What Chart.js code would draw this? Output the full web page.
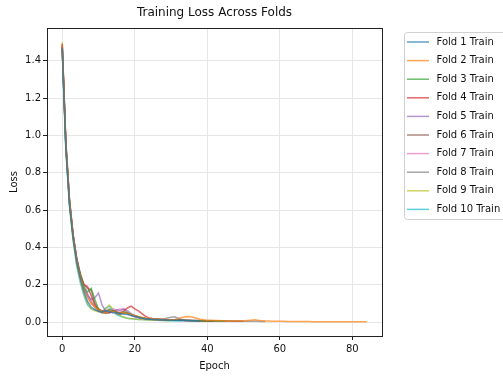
<!DOCTYPE html>
<html>
<head>
<meta charset="utf-8">
<script src="https://cdn.jsdelivr.net/npm/chart.js@4.4.0/dist/chart.umd.min.js"></script>
<style>
  body { margin: 0; background: #fff; }
</style>
</head>
<body>
<canvas id="loss-chart" width="503" height="377"></canvas>
<script>
const foldLabels = ['Fold 1 Train', 'Fold 2 Train', 'Fold 3 Train', 'Fold 4 Train', 'Fold 5 Train',
  'Fold 6 Train', 'Fold 7 Train', 'Fold 8 Train', 'Fold 9 Train', 'Fold 10 Train'];
const foldColors = ['#1f77b4', '#ff7f0e', '#2ca02c', '#d62728', '#9467bd',
  '#8c564b', '#e377c2', '#7f7f7f', '#bcbd22', '#17becf'];

// loss per epoch (index = epoch)
const fold1 = [1.47, 0.94, 0.63, 0.45, 0.32, 0.23, 0.16, 0.11, 0.08, 0.066,
  0.058, 0.052, 0.061, 0.056, 0.048, 0.051, 0.045, 0.042, 0.040, 0.035,
  0.030, 0.025, 0.020, 0.018, 0.016, 0.014, 0.013, 0.012, 0.012, 0.011,
  0.010, 0.009, 0.009, 0.008, 0.008, 0.007, 0.007, 0.006, 0.006];
const fold2 = [1.48, 0.96, 0.65, 0.46, 0.33, 0.24, 0.17, 0.13, 0.10, 0.080,
  0.065, 0.055, 0.050, 0.060, 0.055, 0.050, 0.048, 0.050, 0.045, 0.040,
  0.035, 0.030, 0.026, 0.022, 0.020, 0.018, 0.016, 0.015, 0.014, 0.013,
  0.012, 0.014, 0.018, 0.024, 0.028, 0.030, 0.025, 0.020, 0.015, 0.012,
  0.010, 0.009, 0.008, 0.008, 0.007, 0.007, 0.006, 0.006, 0.006, 0.005,
  0.006, 0.008, 0.010, 0.012, 0.009, 0.007, 0.005, 0.005, 0.004, 0.004,
  0.004, 0.004, 0.003, 0.003, 0.003, 0.003, 0.003, 0.003, 0.003, 0.002,
  0.002, 0.002, 0.002, 0.002, 0.002, 0.002, 0.002, 0.002, 0.002, 0.002,
  0.002, 0.002, 0.002, 0.002, 0.002];
const fold3 = [1.46, 0.93, 0.64, 0.46, 0.33, 0.25, 0.19, 0.16, 0.18, 0.12,
  0.07, 0.055, 0.05, 0.065, 0.06, 0.05, 0.045, 0.055, 0.05, 0.04,
  0.033, 0.027, 0.022, 0.019, 0.017, 0.015, 0.014, 0.013, 0.012, 0.011,
  0.010, 0.010, 0.009, 0.009, 0.008, 0.008, 0.007, 0.007, 0.007, 0.006,
  0.006, 0.006, 0.005, 0.005, 0.005, 0.005];
const fold4 = [1.49, 0.97, 0.66, 0.47, 0.34, 0.25, 0.20, 0.19, 0.14, 0.09,
  0.07, 0.06, 0.055, 0.05, 0.06, 0.055, 0.05, 0.06, 0.075, 0.085,
  0.07, 0.06, 0.045, 0.03, 0.022, 0.018, 0.016, 0.014, 0.013, 0.012,
  0.011, 0.010, 0.009, 0.009, 0.008, 0.008, 0.007, 0.007, 0.006, 0.006,
  0.006, 0.005, 0.005];
const fold5 = [1.47, 0.95, 0.65, 0.47, 0.34, 0.25, 0.18, 0.14, 0.12, 0.13,
  0.155, 0.09, 0.06, 0.05, 0.055, 0.065, 0.06, 0.07, 0.06, 0.045,
  0.035, 0.028, 0.022, 0.019, 0.017, 0.015, 0.014, 0.013, 0.012, 0.011,
  0.010, 0.010, 0.009, 0.009, 0.008, 0.008, 0.007, 0.007, 0.006, 0.006,
  0.006];
const fold6 = [1.48, 0.95, 0.65, 0.46, 0.34, 0.26, 0.20, 0.18, 0.17, 0.10,
  0.065, 0.05, 0.045, 0.05, 0.06, 0.045, 0.04, 0.05, 0.045, 0.04,
  0.03, 0.025, 0.021, 0.018, 0.016, 0.015, 0.014, 0.013, 0.012, 0.011,
  0.010, 0.010, 0.009, 0.009, 0.008, 0.008, 0.008, 0.007, 0.007, 0.007,
  0.006, 0.006, 0.006, 0.005, 0.005, 0.005, 0.005, 0.004, 0.004, 0.004,
  0.004];
const fold7 = [1.47, 0.94, 0.64, 0.46, 0.33, 0.24, 0.18, 0.14, 0.10, 0.08,
  0.06, 0.05, 0.055, 0.06, 0.07, 0.065, 0.07, 0.068, 0.05, 0.035,
  0.028, 0.022, 0.019, 0.017, 0.015, 0.014, 0.013, 0.012, 0.011, 0.010,
  0.010, 0.009, 0.009, 0.008, 0.008, 0.007, 0.007];
const fold8 = [1.48, 0.95, 0.64, 0.46, 0.33, 0.24, 0.18, 0.15, 0.11, 0.08,
  0.06, 0.05, 0.06, 0.07, 0.06, 0.05, 0.045, 0.05, 0.045, 0.04,
  0.032, 0.026, 0.021, 0.018, 0.016, 0.015, 0.014, 0.014, 0.016, 0.022,
  0.026, 0.028, 0.02, 0.014, 0.011, 0.010, 0.009, 0.009, 0.008, 0.008,
  0.007, 0.007, 0.007, 0.006, 0.006, 0.006, 0.005, 0.005, 0.005, 0.005,
  0.004, 0.004, 0.004, 0.004, 0.004, 0.003, 0.003];
const fold9 = [1.50, 0.95, 0.63, 0.44, 0.31, 0.22, 0.15, 0.10, 0.07, 0.06,
  0.055, 0.05, 0.07, 0.09, 0.07, 0.05, 0.035, 0.025, 0.02, 0.018,
  0.016, 0.014, 0.013, 0.012, 0.011, 0.010, 0.009, 0.009, 0.008, 0.008,
  0.007];
const fold10 = [1.46, 0.92, 0.62, 0.44, 0.30, 0.21, 0.14, 0.09, 0.07, 0.065,
  0.06, 0.055, 0.075, 0.085, 0.06, 0.04, 0.03, 0.025, 0.02, 0.018,
  0.016, 0.014, 0.013, 0.012, 0.011, 0.010, 0.009, 0.008, 0.008, 0.007,
  0.007, 0.006, 0.006, 0.006];

const foldSeries = [fold1, fold2, fold3, fold4, fold5, fold6, fold7, fold8, fold9, fold10];

const xTicks = [0, 20, 40, 60, 80];
const yTicks = [0.0, 0.2, 0.4, 0.6, 0.8, 1.0, 1.2, 1.4];

const FONT = 'DejaVu Sans';
const INK = '#111';

function withAlpha(hex, a) {
  const n = parseInt(hex.slice(1), 16);
  return 'rgba(' + (n >> 16) + ',' + ((n >> 8) & 255) + ',' + (n & 255) + ',' + a + ')';
}

// matplotlib-ish frame: spines on all four sides
const frame = {
  id: 'frame',
  afterDatasetsDraw(chart) {
    const { ctx, chartArea: a } = chart;
    ctx.save();
    ctx.strokeStyle = '#222';
    ctx.lineWidth = 1;
    ctx.strokeRect(Math.round(a.left) + 0.5, Math.round(a.top) + 0.5,
      Math.round(a.right - a.left), Math.round(a.bottom - a.top));
    ctx.restore();
  }
};

// legend outside the axes, top right, with a rounded box
const outsideLegend = {
  id: 'outsideLegend',
  afterDraw(chart) {
    const ctx = chart.ctx;
    const x0 = 404.5, y0 = 32.5, w = 120, h = 187;
    ctx.save();
    ctx.fillStyle = 'rgba(255,255,255,0.8)';
    ctx.strokeStyle = '#d0d0d0';
    ctx.lineWidth = 1;
    ctx.beginPath();
    ctx.roundRect(x0, y0, w, h, 3);
    ctx.fill();
    ctx.stroke();
    ctx.font = '10px ' + FONT;
    ctx.textBaseline = 'middle';
    chart.data.datasets.forEach((ds, i) => {
      const y = 42 + i * 18.6;
      ctx.strokeStyle = ds.borderColor;
      ctx.lineWidth = 1.5;
      ctx.beginPath();
      ctx.moveTo(407, y);
      ctx.lineTo(429, y);
      ctx.stroke();
      ctx.fillStyle = INK;
      ctx.fillText(ds.label, 436.5, y);
    });
    ctx.restore();
  }
};

const ctx = document.getElementById('loss-chart');
const lossChart = new Chart(ctx, {
  type: 'line',
  data: {
    datasets: foldSeries.map((vals, i) => ({
      label: foldLabels[i],
      data: vals.map((v, epoch) => ({ x: epoch, y: v })),
      borderColor: withAlpha(foldColors[i], 0.7),
      borderWidth: 1.5,
      pointRadius: 0,
      tension: 0,
      fill: false,
    })),
  },
  options: {
    responsive: false,
    animation: false,
    layout: { padding: { left: 0, right: 121, top: 0, bottom: 0 } },
    scales: {
      x: {
        type: 'linear',
        min: -4.2,
        max: 88.2,
        afterBuildTicks: scale => { scale.ticks = xTicks.map(v => ({ value: v })); },
        afterFit: scale => { scale.height = 41; },
        grid: { color: '#e6e6e6', tickColor: '#222', tickLength: 4 },
        border: { display: false },
        ticks: { color: INK, padding: 3, font: { family: FONT, size: 10 } },
        title: { display: true, text: 'Epoch', color: INK, padding: { top: 0, bottom: 5 },
          font: { family: FONT, size: 10 } },
      },
      y: {
        min: -0.075,
        max: 1.575,
        afterBuildTicks: scale => { scale.ticks = yTicks.map(v => ({ value: v })); },
        afterFit: scale => { scale.width = 47; },
        grid: { color: '#e6e6e6', tickColor: '#222', tickLength: 4 },
        border: { display: false },
        ticks: { color: INK, padding: 2, font: { family: FONT, size: 10 },
          callback: v => v.toFixed(1) },
        title: { display: true, text: 'Loss', color: INK, padding: { top: 8, bottom: 0 },
          font: { family: FONT, size: 10 } },
      },
    },
    plugins: {
      legend: { display: false },
      tooltip: { enabled: false },
      title: {
        display: true,
        text: 'Training Loss Across Folds',
        color: INK,
        fullSize: false,
        font: { family: FONT, size: 12, weight: 'normal' },
        padding: { top: 6, bottom: 7.6 },
      },
    },
  },
  plugins: [frame, outsideLegend],
});
</script>
</body>
</html>
